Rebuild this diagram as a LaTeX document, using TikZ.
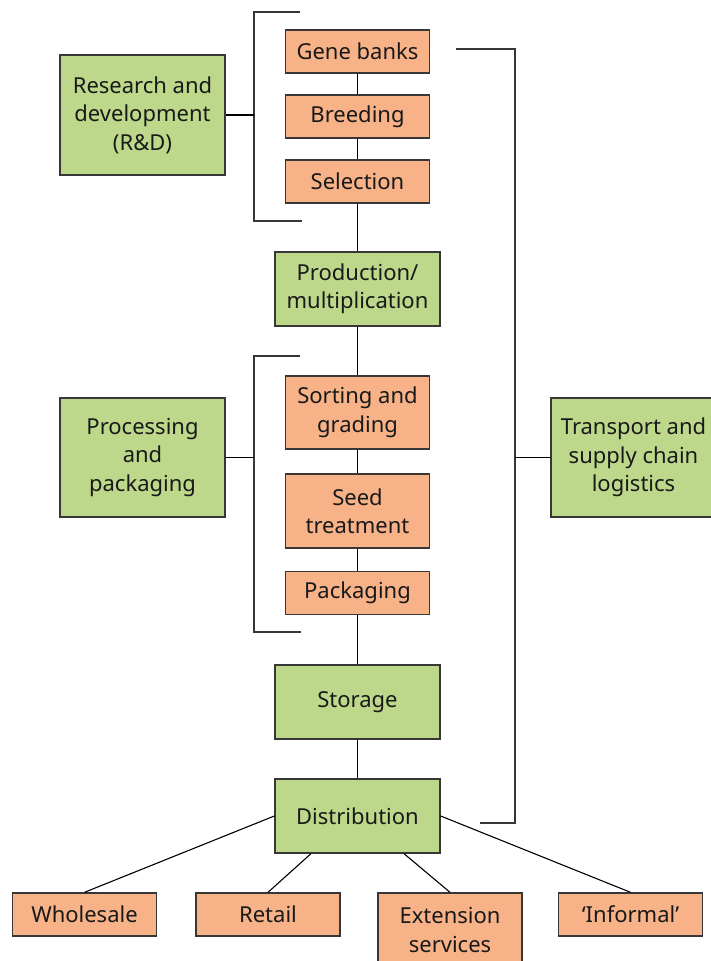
\documentclass[tikz,border=0pt]{standalone}
\usepackage{fontspec}
\setmainfont{Noto Sans}
\definecolor{boxgreen}{RGB}{189,216,138}
\definecolor{boxorange}{RGB}{247,178,136}
\definecolor{linegray}{RGB}{55,55,55}
\begin{document}
\begin{tikzpicture}[x=1pt,y=-1pt,
  base/.style={draw=linegray, line width=1.4pt, align=center, inner sep=2pt,
    font=\fontsize{22}{28.5}\selectfont, text=black!90},
  greenbox/.style={base, fill=boxgreen, minimum width=165pt, minimum height=74pt},
  orangebox/.style={base, fill=boxorange, minimum width=144pt, minimum height=43pt},
  conn/.style={draw=black, line width=1.1pt},
  brk/.style={draw=linegray, line width=1.4pt}]
\useasboundingbox (0,0) rectangle (710,961);

\node[greenbox, minimum height=120pt] (rd) at (142.5,115) {Research and\\development\\(R\&D)};
\node[orangebox] (gene) at (357.5,51.5) {Gene banks};
\node[orangebox] (breed) at (357.5,116.5) {Breeding};
\node[orangebox] (sel) at (357.5,181.5) {Selection};
\node[greenbox] (prod) at (357.5,289) {Production/\\multiplication};
\node[greenbox, minimum height=119pt] (proc) at (142.5,457.5) {Processing\\and\\packaging};
\node[orangebox, minimum height=73pt] (sort) at (357.5,412.5) {Sorting and\\grading};
\node[orangebox, minimum height=74pt] (treat) at (357.5,511) {Seed\\treatment};
\node[orangebox] (pack) at (357.5,593) {Packaging};
\node[greenbox] (stor) at (357.5,702) {Storage};
\node[greenbox] (dist) at (357.5,816) {Distribution};
\node[greenbox, minimum height=119pt] (trans) at (633.5,457.5) {Transport and\\supply chain\\logistics};

\node[orangebox] (whole) at (84.5,914.5) {Wholesale};
\node[orangebox] (retail) at (268,914.5) {Retail};
\node[orangebox, minimum height=74pt] (ext) at (450,930) {Extension\\services};
\node[orangebox] (inf) at (630.5,914.5) {‘Informal’};

% main vertical chain
\draw[conn] (gene) -- (breed);
\draw[conn] (breed) -- (sel);
\draw[conn] (sel) -- (prod);
\draw[conn] (prod) -- (sort);
\draw[conn] (sort) -- (treat);
\draw[conn] (treat) -- (pack);
\draw[conn] (pack) -- (stor);
\draw[conn] (stor) -- (dist);

% bracket R&D
\coordinate (b1a) at (300,12);
\coordinate (b1b) at (254,12);
\coordinate (b1c) at (254,221);
\coordinate (b1d) at (302,221);
\draw[brk] (b1a) -- (b1b) -- (b1c) -- (b1d);
\draw[conn] (rd.east) -- (rd.east -| b1b);

% bracket processing
\coordinate (b2a) at (300,356);
\coordinate (b2b) at (254,356);
\coordinate (b2c) at (254,632);
\coordinate (b2d) at (301,632);
\draw[brk] (b2a) -- (b2b) -- (b2c) -- (b2d);
\draw[conn] (proc.east) -- (proc.east -| b2b);

% right bracket
\coordinate (r1) at (456,49);
\coordinate (r2) at (515,49);
\coordinate (r3) at (515,823);
\coordinate (r4) at (480,823);
\draw[brk] (r1) -- (r2) -- (r3) -- (r4);
\draw[conn] (trans.west) -- (trans.west -| r2);

% distribution branches
\draw[conn] (dist.west) -- (whole.north);
\draw[conn] (dist.-141) -- (retail.north);
\draw[conn] (dist.-39) -- (ext.north);
\draw[conn] (dist.east) -- (inf.north);
\end{tikzpicture}
\end{document}
